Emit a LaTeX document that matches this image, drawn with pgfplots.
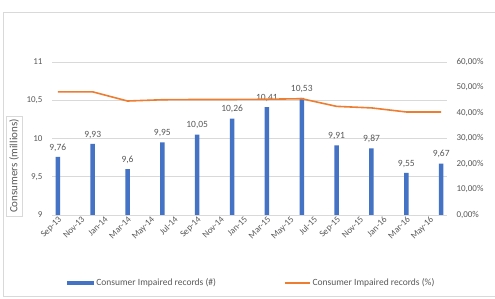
\documentclass[border=0pt]{standalone}
\usepackage{pgfplots}
\pgfplotsset{compat=1.18}
\usepackage{fontspec}
\setmainfont{Carlito}
\definecolor{barblue}{HTML}{4472C4}
\definecolor{lineorange}{HTML}{ED7D31}
\definecolor{txt}{HTML}{595959}
\definecolor{gridc}{HTML}{D9D9D9}
\pgfplotsset{
  common/.style={
    scale only axis, width=395pt, height=153pt,
    at={(52pt,84pt)}, anchor=south west,
    xmin=-0.5, xmax=33.5,
    /pgf/number format/assume math mode=true,
    tick label style={font=\fontsize{9}{10}\selectfont, text=txt},
    major tick length=0pt,
  },
  barlegend/.style={legend image code/.code={\fill[barblue] (0pt,-2pt) rectangle (27pt,2pt);}},
  linelegend/.style={legend image code/.code={\draw[lineorange, line width=1.6pt] (0pt,0pt) -- (25pt,0pt);}},
}
\begin{document}
\begin{tikzpicture}
\useasboundingbox (0,0) rectangle (495pt,299pt);
\fill[white] (0,0) rectangle (495pt,299pt);
\draw[gridc, line width=0.8pt] (3pt,3pt) rectangle (497pt,287pt);
% quarterly consumer counts (millions), x in months from Sep-13
\begin{axis}[common,
  ymin=9, ymax=11, ytick={9,9.5,...,11},
  yticklabel style={/pgf/number format/use comma},
  yticklabel shift=6pt,
  xtick={0,2,...,32},
  xticklabels={Sep-13,Nov-13,Jan-14,Mar-14,May-14,Jul-14,Sep-14,Nov-14,Jan-15,Mar-15,May-15,Jul-15,Sep-15,Nov-15,Jan-16,Mar-16,May-16},
  xticklabel style={rotate=45, anchor=north east, inner sep=0.5pt},
  ymajorgrids, major grid style={gridc, line width=0.7pt},
  axis x line*=bottom, axis y line*=left,
  x axis line style={gridc, line width=0.7pt, -},
  y axis line style={draw=none},
  ylabel={Consumers (millions)},
  ylabel style={at={(axis description cs:-0.096,0.32)}, anchor=center,
    draw=gridc, inner sep=3pt, font=\fontsize{11}{12}\selectfont, text=txt},
  legend columns=2,
  legend style={at={(axis description cs:0.506,-0.445)}, anchor=center,
    draw=none, fill=none, font=\fontsize{9.5}{11}\selectfont, text=txt,
    /tikz/every even column/.append style={column sep=66pt}},
]
\addplot[ybar, bar width=4.5pt, fill=barblue, draw=none, barlegend,
  nodes near coords,
  every node near coord/.append style={font=\fontsize{9.5}{10}\selectfont, text=txt,
    /pgf/number format/use comma, /pgf/number format/assume math mode=true, yshift=2pt}]
  coordinates {(0,9.76) (3,9.93) (6,9.6) (9,9.95) (12,10.05) (15,10.26)
               (18,10.41) (21,10.53) (24,9.91) (27,9.87) (30,9.55) (33,9.67)};
\addlegendentry{Consumer Impaired records (\#)}
\addlegendimage{linelegend}
\addlegendentry{Consumer Impaired records (\%)}
\end{axis}
% share of impaired records, right axis
\begin{axis}[common,
  ymin=0, ymax=60, ytick={0,10,...,60},
  yticklabel={\pgfmathprintnumber[fixed,fixed zerofill,precision=2,use comma,assume math mode=true]{\tick}\%},
  yticklabel shift=6pt,
  axis y line*=right, axis x line=none,
  y axis line style={draw=none},
]
\addplot[lineorange, line width=1.6pt, mark=none]
  coordinates {(0,48.3) (3,48.3) (6,44.7) (9,45.2) (12,45.3) (15,45.3)
               (18,45.4) (21,45.6) (24,42.6) (27,42.0) (30,40.4) (33,40.4)};
\end{axis}
\end{tikzpicture}
\end{document}
